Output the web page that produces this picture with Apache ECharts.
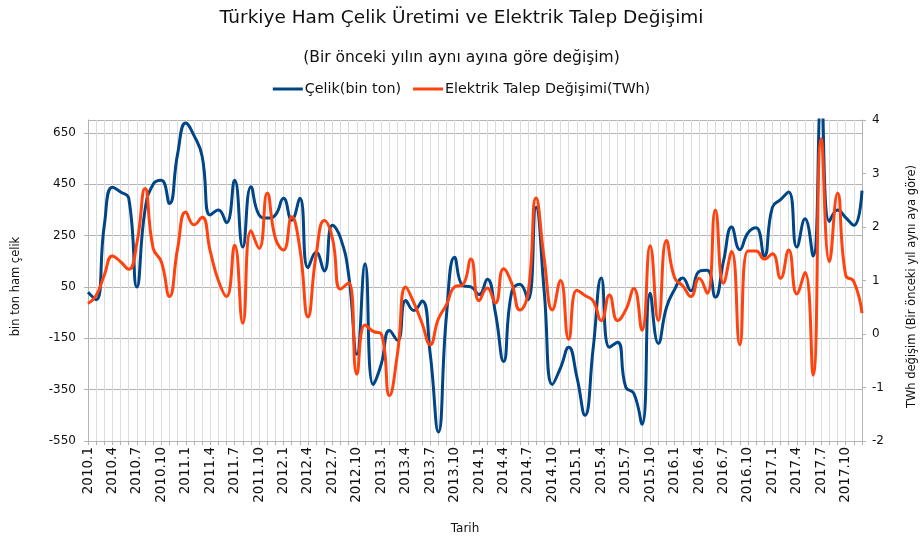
<!DOCTYPE html>
<html>
<head>
<meta charset="utf-8">
<script src="https://cdn.jsdelivr.net/npm/echarts@6/dist/echarts.min.js"></script>
<style>html,body{margin:0;padding:0;background:#fff;}#chart{width:923px;height:536px;}</style>
</head>
<body>
<div id="chart"></div>
<script>
var categories = [
"2010.1","2010.2","2010.3","2010.4","2010.5","2010.6","2010.7","2010.8","2010.9","2010.10","2010.11","2010.12",
"2011.1","2011.2","2011.3","2011.4","2011.5","2011.6","2011.7","2011.8","2011.9","2011.10","2011.11","2011.12",
"2012.1","2012.2","2012.3","2012.4","2012.5","2012.6","2012.7","2012.8","2012.9","2012.10","2012.11","2012.12",
"2013.1","2013.2","2013.3","2013.4","2013.5","2013.6","2013.7","2013.8","2013.9","2013.10","2013.11","2013.12",
"2014.1","2014.2","2014.3","2014.4","2014.5","2014.6","2014.7","2014.8","2014.9","2014.10","2014.11","2014.12",
"2015.1","2015.2","2015.3","2015.4","2015.5","2015.6","2015.7","2015.8","2015.9","2015.10","2015.11","2015.12",
"2016.1","2016.2","2016.3","2016.4","2016.5","2016.6","2016.7","2016.8","2016.9","2016.10","2016.11","2016.12",
"2017.1","2017.2","2017.3","2017.4","2017.5","2017.6","2017.7","2017.8","2017.9","2017.10","2017.11","2017.12"
];

var celik = [
29, 0, 290, 438, 420, 395, 50, 350, 450, 465, 375, 568,
688, 640, 560, 330, 350, 300, 465, 205, 440, 330, 318, 330,
395, 310, 395, 125, 185, 112, 290, 240, 95, -212, 140, -330,
-250, -120, -158, -3, -42, -5, -210, -515, -60, 166, 55, 50,
20, 80, -50, -240, 30, 60, 0, 360, 30, -330, -265, -185,
-300, -450, -190, 85, -185, -165, -340, -365, -485, 25, -170, -30,
40, 85, 35, 110, 115, 10, 150, 283, 195, 260, 280, 170,
360, 390, 420, 205, 315, 170, 780, 305, 350, 320, 290, 425
];

var elektrik = [
0.57, 0.72, 1.10, 1.46, 1.35, 1.21, 1.70, 2.72, 1.60, 1.35, 0.70, 1.60,
2.28, 2.04, 2.18, 1.55, 1.00, 0.70, 1.66, 0.20, 1.93, 1.60, 2.63, 1.79,
1.57, 2.19, 1.60, 0.32, 1.48, 2.12, 1.79, 0.84, 0.96, -0.75, 0.17, 0.05,
0.00, -1.15, -0.35, 0.88, 0.58, 0.20, -0.20, 0.28, 0.55, 0.88, 0.92, 1.40,
0.62, 0.86, 0.58, 1.22, 0.95, 0.45, 0.75, 2.54, 1.40, 0.45, 1.00, -0.10,
0.82, 0.72, 0.62, 0.25, 0.73, 0.25, 0.45, 0.85, 0.07, 1.65, 0.25, 1.75,
1.05, 0.90, 0.70, 1.04, 0.76, 2.32, 0.95, 1.54, -0.20, 1.55, 1.55, 1.40,
1.50, 1.04, 1.57, 0.75, 1.15, -0.77, 3.65, 1.35, 2.63, 1.10, 0.98, 0.39
];

var seriesNames = ["Çelik(bin ton)", "Elektrik Talep Değişimi(TWh)"];
var titleText = "Türkiye Ham Çelik Üretimi ve Elektrik Talep Değişimi";
var subTitleText = "(Bir önceki yılın aynı ayına göre değişim)";
var xName = "Tarih";
var yLeftName = "bin ton ham çelik";
var yRightName = "TWh değişim (Bir önceki yıl aynı aya göre)";

var FONT = "DejaVu Sans";
var chart = echarts.init(document.getElementById('chart'), null, {renderer: 'canvas'});
chart.setOption({
  animation: false,
  backgroundColor: '#ffffff',
  title: [
    {text: titleText, left: 'center', top: 4, textStyle: {fontFamily: FONT, fontSize: 18.5, fontWeight: 'normal', color: '#111'}},
    {text: subTitleText, left: 'center', top: 45, textStyle: {fontFamily: FONT, fontSize: 15.5, fontWeight: 'normal', color: '#111'}}
  ],
  legend: {
    top: 77, left: 'center',
    icon: 'rect', itemWidth: 30, itemHeight: 3, itemGap: 12,
    textStyle: {fontFamily: FONT, fontSize: 14.3, color: '#111', padding: [0, 0, 0, -3]},
    data: seriesNames
  },
  grid: {left: 88, right: 61, top: 120, bottom: 95, containLabel: false, outerBoundsMode: 'none'},
  xAxis: {
    type: 'category', data: categories, boundaryGap: false,
    name: xName, nameLocation: 'middle', nameGap: 82,
    nameTextStyle: {fontFamily: FONT, fontSize: 12, color: '#111', padding: [0, 20, 0, 0]},
    axisLine: {onZero: false, lineStyle: {color: '#b3b3b3'}},
    axisTick: {show: true, interval: 0, length: 4, lineStyle: {color: '#b3b3b3'}},
    axisLabel: {interval: 2, rotate: 90, margin: 6, fontFamily: FONT, fontSize: 13.5, color: '#111'},
    splitLine: {show: true, interval: 0, lineStyle: {color: '#dcdcdc', width: 1}}
  },
  yAxis: [
    {
      type: 'value', min: -550, max: 700, interval: 200, position: 'left',
      name: yLeftName, nameLocation: 'middle', nameRotate: 90, nameGap: 66,
      nameTextStyle: {fontFamily: FONT, fontSize: 11.5, color: '#111', padding: [0, 12, 0, 0]},
      axisLine: {show: true, onZero: false, lineStyle: {color: '#b3b3b3'}},
      axisTick: {show: true, length: 4, lineStyle: {color: '#b3b3b3'}},
      axisLabel: {showMaxLabel: false, margin: 12, fontFamily: FONT, fontSize: 12, color: '#111'},
      splitLine: {show: true, lineStyle: {color: '#b3b3b3', width: 1}}
    },
    {
      type: 'value', min: -2, max: 4, interval: 1, position: 'right',
      name: yRightName, nameLocation: 'middle', nameRotate: 90, nameGap: 44,
      nameTextStyle: {fontFamily: FONT, fontSize: 11.5, color: '#111', padding: [0, 12, 0, 0]},
      axisLine: {show: true, onZero: false, lineStyle: {color: '#b3b3b3'}},
      axisTick: {show: true, length: 4, lineStyle: {color: '#b3b3b3'}},
      axisLabel: {margin: 10, fontFamily: FONT, fontSize: 12, color: '#111'},
      splitLine: {show: false}
    }
  ],
  series: [
    {name: seriesNames[0], type: 'line', yAxisIndex: 0, data: celik, smooth: 0.5, showSymbol: false, clip: true,
     lineStyle: {color: '#004586', width: 3}, itemStyle: {color: '#004586'}},
    {name: seriesNames[1], type: 'line', yAxisIndex: 1, data: elektrik, smooth: 0.5, showSymbol: false, clip: true,
     lineStyle: {color: '#ff420e', width: 3}, itemStyle: {color: '#ff420e'}}
  ]
});
</script>
</body>
</html>
